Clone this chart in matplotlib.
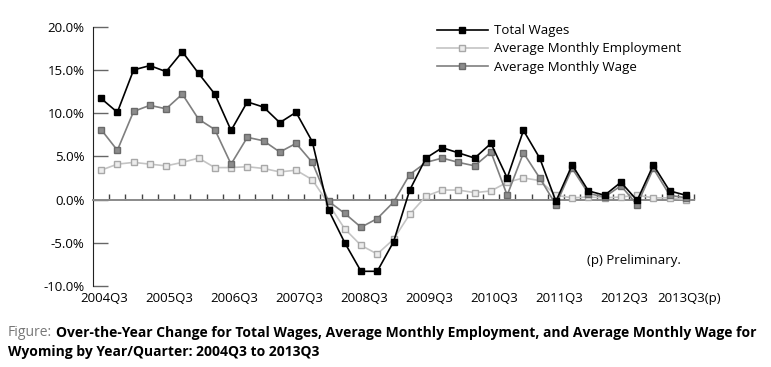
import matplotlib
matplotlib.use("Agg")
import matplotlib.pyplot as plt
import matplotlib.transforms as mtransforms
import numpy as np

# quarters 2004Q3 .. 2013Q3
quarters = list(range(37))
tick_labels = ['2004Q3', '2005Q3', '2006Q3', '2007Q3', '2008Q3',
               '2009Q3', '2010Q3', '2011Q3', '2012Q3', '2013Q3(p)']

total_wages = [11.7, 10.1, 15.0, 15.5, 14.8, 17.1, 14.6, 12.2, 8.0, 11.3,
               10.7, 8.9, 10.1, 6.7, -1.2, -5.0, -8.3, -8.3, -4.9, 1.1,
               4.8, 6.0, 5.4, 4.8, 6.5, 2.5, 8.0, 4.8, -0.2, 4.0,
               1.0, 0.5, 2.0, -0.1, 4.0, 1.0, 0.5]
avg_employment = [3.4, 4.1, 4.3, 4.1, 3.9, 4.3, 4.8, 3.7, 3.7, 3.8,
                  3.6, 3.2, 3.4, 2.3, -0.5, -3.4, -5.3, -6.3, -4.6, -1.7,
                  0.4, 1.1, 1.1, 0.8, 1.0, 2.0, 2.5, 2.2, 0.5, 0.2,
                  0.3, 0.2, 0.3, 0.5, 0.2, 0.2, 0.0]
avg_wage = [8.1, 5.7, 10.2, 10.9, 10.5, 12.2, 9.3, 8.1, 4.1, 7.2,
            6.8, 5.5, 6.5, 4.3, -0.2, -1.6, -3.2, -2.2, -0.3, 2.9,
            4.3, 4.8, 4.3, 3.9, 5.5, 0.5, 5.4, 2.5, -0.6, 3.6,
            0.7, 0.3, 1.6, -0.6, 3.6, 0.5, 0.2]

plt.rcParams['font.family'] = ['Open Sans', 'DejaVu Sans']

fig = plt.figure(figsize=(7.71, 3.67), dpi=100)
ax = fig.add_axes([93 / 771, 1 - 286 / 367, (694 - 93) / 771, (286 - 26.7) / 367])

ax.plot(quarters, total_wages, color='black', lw=1.2, marker='s', ms=4,
        mfc='black', mec='black', label='Total Wages', zorder=5)
ax.plot(quarters, avg_employment, color='#c4c4c4', lw=1.2, marker='s', ms=4,
        mfc='#ececec', mec='#a8a8a8', label='Average Monthly Employment', zorder=3)
ax.plot(quarters, avg_wage, color='#7f7f7f', lw=1.2, marker='s', ms=4,
        mfc='#8c8c8c', mec='#6a6a6a', label='Average Monthly Wage', zorder=4)

ax.set_xlim(-0.5, 36.5)
ax.set_ylim(-10, 20)
ax.set_yticks(np.arange(-10, 21, 5))
ax.set_yticklabels([f'{v:.1f}%' for v in np.arange(-10, 21, 5)], fontsize=9.5)
ax.tick_params(axis='y', direction='in', length=11, width=1, color='#666666', pad=6)

ax.spines['top'].set_visible(False)
ax.spines['right'].set_visible(False)
ax.spines['left'].set_color('#222222')
ax.spines['bottom'].set_position(('data', 0))
ax.spines['bottom'].set_color('#8a8a8a')
ax.spines['bottom'].set_linewidth(1.4)
ax.set_xticks(np.arange(0.5, 37, 1))
ax.tick_params(axis='x', direction='in', length=4, width=1, color='#444444',
               labelbottom=False)

trans = mtransforms.blended_transform_factory(ax.transData, ax.transAxes)
for i, lab in enumerate(tick_labels):
    ax.text(quarters[i * 4] + 0.2, -0.05, lab, transform=trans, ha='center',
            va='center', fontsize=9.5)

ax.text(0.822, 0.10, '(p) Preliminary.', transform=ax.transAxes, fontsize=9.5,
        ha='left', va='center')

ax.legend(loc='upper left', bbox_to_anchor=(0.563, 1.03), frameon=False,
          fontsize=9.5, handlelength=3.9, handletextpad=0.45, labelspacing=0.4,
          borderaxespad=0)

# caption, squeezed to the reference width
renderer = fig.canvas.get_renderer()
cap_size = 10.5
line1 = 'Over-the-Year Change for Total Wages, Average Monthly Employment, and Average Monthly Wage for'
line2 = 'Wyoming by Year/Quarter: 2004Q3 to 2013Q3'
t1 = fig.text(8 / 771, 1 - 333 / 367, 'Figure:', color='#777777', fontsize=cap_size,
              va='center')
t2 = fig.text(0, 1 - 333 / 367, line1, fontsize=cap_size, fontweight='bold',
              fontstretch='condensed', va='center')
t3 = fig.text(8 / 771, 1 - 352 / 367, line2, fontsize=cap_size, fontweight='bold',
              fontstretch='condensed', va='center')
w = t1.get_window_extent(renderer).width + 4 + t2.get_window_extent(renderer).width
scale = min(1.0, 752 / w)
for t in (t1, t2, t3):
    t.set_fontsize(cap_size * scale)
bb = t1.get_window_extent(renderer)
t2.set_x((bb.x1 + 4) / 771)

fig.savefig('out.png', dpi=100)
